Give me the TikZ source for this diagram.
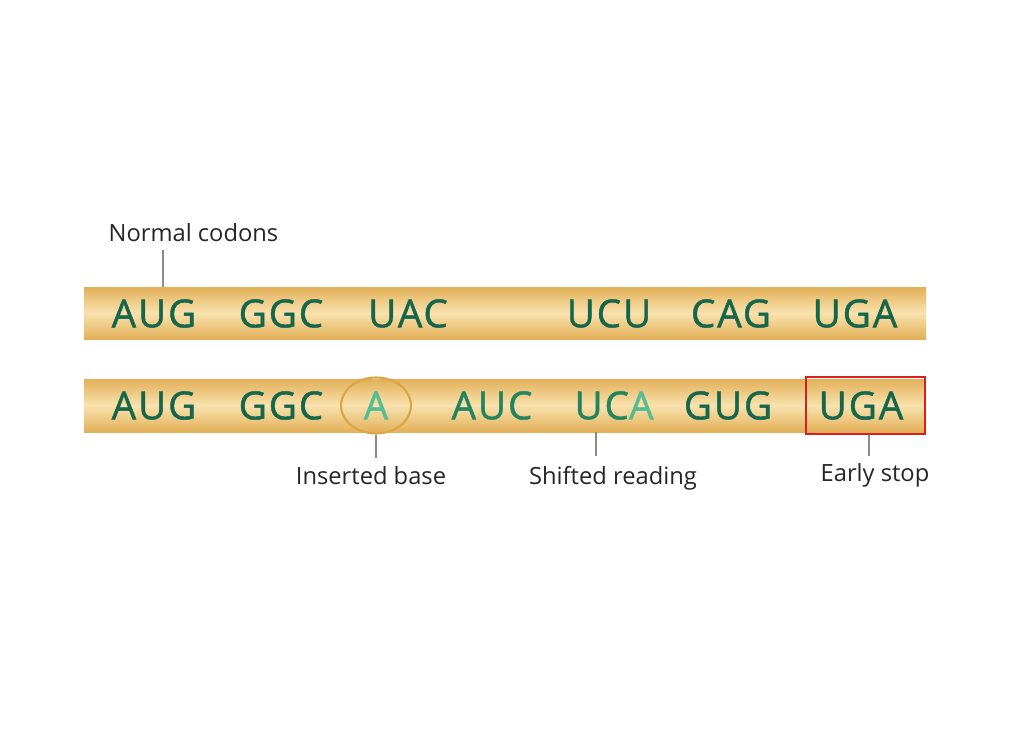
\documentclass[tikz,border=0pt]{standalone}
\usepackage{fontspec}
\setmainfont{Open Sans}
\newfontfamily\codonfont[LetterSpace=5,FakeBold=1.2]{Open Sans}
\usepackage{xcolor}
\usepackage{tikz}
\usetikzlibrary{shapes.geometric}

\definecolor{codongreen}{HTML}{15664B}
\definecolor{shiftgreen}{HTML}{23845F}
\definecolor{insgreen}{HTML}{55BC92}
\definecolor{baredge}{HTML}{E3B058}
\definecolor{barmid}{HTML}{F8E2AE}
\definecolor{ringgold}{HTML}{D9A545}
\definecolor{stopred}{HTML}{D62024}
\definecolor{leadergray}{HTML}{8C8C8C}

\begin{document}
\begin{tikzpicture}[x=0.02cm,y=-0.02cm,
    codon/.style={text=codongreen,inner sep=0pt,
        font=\codonfont\fontsize{22}{22}\selectfont},
    tag/.style={anchor=base,inner sep=0pt,text=black!85,
        font=\fontsize{13.5}{16}\selectfont},
    leader/.style={draw=leadergray,line width=0.6pt}]
    \useasboundingbox (0,0) rectangle (1024,747);
    \def\barleft{84}
    \def\barright{926}

    % the two mRNA strands
    \newcommand{\drawstrand}[2]{%
        \shade[top color=baredge,bottom color=baredge,middle color=barmid]
            (\barleft,#1) rectangle (\barright,#2);
    }
    \drawstrand{287}{339}
    \drawstrand{379}{432}

    % normal reading frame
    \foreach [count=\i] \codon/\cx in {AUG/154,GGC/281,UAC/408,UCU/609,CAG/731,UGA/855} {
        \node[codon] (n\i) at (\cx,313.5) {\codon};
    }

    % reading frame after the insertion
    \node[codon] (m1) at (154,405.5) {AUG};
    \node[codon] (m2) at (281,405.5) {GGC};
    \node[codon,text=insgreen] (ins) at (376,405.5) {A};
    \node[codon,text=shiftgreen] (m3) at (492,405.5) {AUC};
    \node[codon,text=shiftgreen] (m4) at (614,405.5) {UC{\color{insgreen}A}};
    \node[codon] (m5) at (728,405.5) {GUG};
    \node[codon] (m6) at (861,405.5) {UGA};

    \node[ellipse,draw=ringgold,line width=1.2pt,
        minimum width=1.4cm,minimum height=1.12cm] (ring) at (ins) {};
    \node[draw=stopred,line width=1.2pt,
        minimum width=2.38cm,minimum height=1.14cm] (stopbox) at (865.5,405.5) {};

    % labels
    \node[tag] (normal) at (193.5,241) {Normal codons};
    \node[tag] (inserted) at (371,484) {Inserted base};
    \node[tag] (shifted) at (613,484) {Shifted reading};
    \node[tag] (early) at (875,481) {Early stop};

    \coordinate (normaltip) at (163,287);
    \coordinate (shifttip) at (596,432);
    \draw[leader] (normaltip) -- (normaltip |- 250,250);
    \draw[leader] (ring.south) -- (ring.south |- 458,458);
    \draw[leader] (shifttip) -- (shifttip |- 456,456);
    \draw[leader] (stopbox.south -| 869,0) -- (869,456);
\end{tikzpicture}
\end{document}
